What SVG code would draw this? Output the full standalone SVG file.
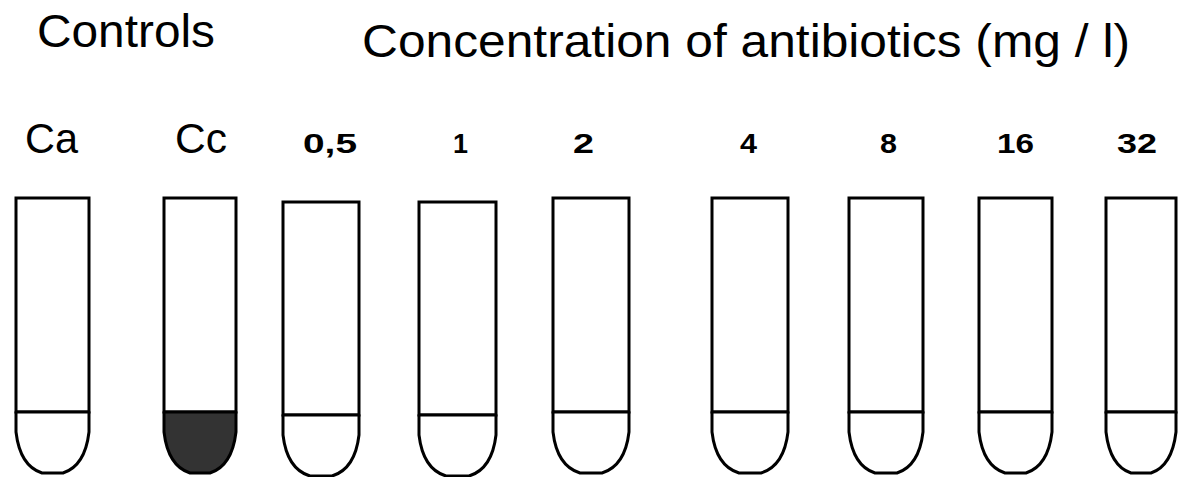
<svg xmlns="http://www.w3.org/2000/svg" width="1181" height="477" viewBox="0 0 1181 477">
<style>
.title{font-family:"Liberation Sans",Arial,sans-serif;font-size:46px;fill:#000}
.ctl{font-family:"Liberation Sans",Arial,sans-serif;font-size:43px;fill:#000}
.num{font-family:"Liberation Sans",Arial,sans-serif;font-size:27px;font-weight:bold;fill:#000}
.tube{fill:#fff;stroke:#000;stroke-width:3}
.tip{fill:#fff;stroke:#000;stroke-width:3;stroke-linejoin:round}
.dark{fill:#333;stroke:#000;stroke-width:3;stroke-linejoin:round}
</style>
<rect width="1181" height="477" fill="#fff"/>
<text class="title" x="37" y="47" textLength="178" lengthAdjust="spacingAndGlyphs">Controls</text>
<text class="title" x="362" y="57" textLength="768" lengthAdjust="spacingAndGlyphs">Concentration of antibiotics (mg / l)</text>

<g id="tube-ca">
<text class="ctl" x="25" y="153" textLength="53" lengthAdjust="spacingAndGlyphs">Ca</text>
<rect class="tube" x="16" y="198" width="73" height="214"/>
<path class="tip" d="M16,412 L16,432 Q20,466 42,473 L63,473 Q85,466 89,432 L89,412 Z"/>
</g>
<g id="tube-cc">
<text class="ctl" x="175" y="153" textLength="52" lengthAdjust="spacingAndGlyphs">Cc</text>
<rect class="tube" x="164" y="198" width="72" height="214"/>
<path class="dark" d="M164,412 L164,432 Q168,466 190,473 L210,473 Q232,466 236,432 L236,412 Z"/>
</g>
<g id="tube-05">
<text class="num" x="303" y="153" textLength="54" lengthAdjust="spacingAndGlyphs">0,5</text>
<rect class="tube" x="283" y="202" width="76" height="213"/>
<path class="tip" d="M283,415 L283,435 Q287,469 310,476 L332,476 Q355,469 359,435 L359,415 Z"/>
</g>
<g id="tube-1">
<text class="num" x="453" y="153" textLength="15" lengthAdjust="spacingAndGlyphs">1</text>
<rect class="tube" x="419" y="202" width="77" height="213"/>
<path class="tip" d="M419,415 L419,435 Q423,469 446,476 L469,476 Q492,469 496,435 L496,415 Z"/>
</g>
<g id="tube-2">
<text class="num" x="573" y="153" textLength="21" lengthAdjust="spacingAndGlyphs">2</text>
<rect class="tube" x="553" y="198" width="76" height="214"/>
<path class="tip" d="M553,412 L553,432 Q557,466 580,473 L602,473 Q625,466 629,432 L629,412 Z"/>
</g>
<g id="tube-4">
<text class="num" x="740" y="153" textLength="17" lengthAdjust="spacingAndGlyphs">4</text>
<rect class="tube" x="712" y="198" width="76" height="214"/>
<path class="tip" d="M712,412 L712,432 Q716,466 739,473 L761,473 Q784,466 788,432 L788,412 Z"/>
</g>
<g id="tube-8">
<text class="num" x="880" y="153" textLength="17" lengthAdjust="spacingAndGlyphs">8</text>
<rect class="tube" x="849" y="198" width="74" height="214"/>
<path class="tip" d="M849,412 L849,432 Q853,466 875,473 L897,473 Q919,466 923,432 L923,412 Z"/>
</g>
<g id="tube-16">
<text class="num" x="997" y="153" textLength="37" lengthAdjust="spacingAndGlyphs">16</text>
<rect class="tube" x="979" y="198" width="73" height="214"/>
<path class="tip" d="M979,412 L979,432 Q983,466 1005,473 L1026,473 Q1048,466 1052,432 L1052,412 Z"/>
</g>
<g id="tube-32">
<text class="num" x="1117" y="153" textLength="40" lengthAdjust="spacingAndGlyphs">32</text>
<rect class="tube" x="1106" y="198" width="70" height="214"/>
<path class="tip" d="M1106,412 L1106,432 Q1110,466 1131,473 L1151,473 Q1172,466 1176,432 L1176,412 Z"/>
</g>
<g id="connectors"></g>
</svg>
